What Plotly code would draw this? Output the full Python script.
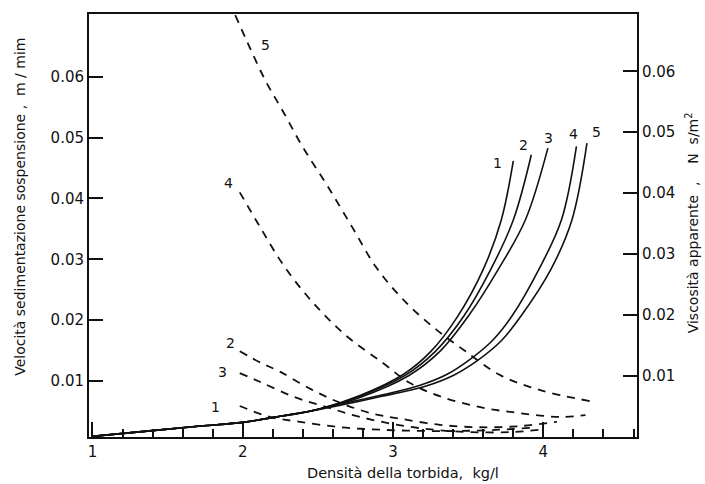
import plotly.graph_objects as go

# ---- data ----
# solid curves: apparent viscosity, N s/m^2 (right axis)
vis_x1 = [1.0, 1.38, 1.72, 2.0, 2.25, 2.51, 2.78, 3.07, 3.25, 3.43, 3.60, 3.72, 3.80]
vis_y1 = [0.0001, 0.0010, 0.0018, 0.0024, 0.0034, 0.0046, 0.0068, 0.0103, 0.0140, 0.0198, 0.0275, 0.0356, 0.0453]
vis_x2 = [1.0, 1.38, 1.72, 2.0, 2.25, 2.51, 2.78, 3.08, 3.28, 3.47, 3.65, 3.80, 3.92]
vis_y2 = [0.0001, 0.0010, 0.0018, 0.0024, 0.0034, 0.0046, 0.0067, 0.0101, 0.0140, 0.0198, 0.0275, 0.0356, 0.0463]
vis_x3 = [1.0, 1.38, 1.72, 2.0, 2.25, 2.51, 2.78, 3.10, 3.31, 3.50, 3.70, 3.88, 4.03]
vis_y3 = [0.0001, 0.0010, 0.0018, 0.0024, 0.0034, 0.0046, 0.0065, 0.0100, 0.0140, 0.0198, 0.0275, 0.0356, 0.0474]
vis_x4 = [1.0, 1.38, 1.72, 2.0, 2.25, 2.38, 2.65, 2.91, 3.18, 3.36, 3.51, 3.66, 3.79, 3.97, 4.12, 4.22]
vis_y4 = [0.0001, 0.0010, 0.0018, 0.0024, 0.0034, 0.0039, 0.0054, 0.0068, 0.0085, 0.0103, 0.0127, 0.0158, 0.0198, 0.0275, 0.0356, 0.0477]
vis_x5 = [1.0, 1.38, 1.72, 2.0, 2.25, 2.38, 2.65, 2.91, 3.21, 3.40, 3.57, 3.72, 3.85, 4.05, 4.19, 4.29]
vis_y5 = [0.0001, 0.0010, 0.0018, 0.0024, 0.0034, 0.0039, 0.0052, 0.0066, 0.0083, 0.0101, 0.0127, 0.0158, 0.0198, 0.0275, 0.0356, 0.0482]

# dashed curves: settling velocity, m/min (left axis)
vel_x1 = [1.98, 2.18, 2.38, 2.65, 2.91, 3.18, 3.45, 3.71, 3.91]
vel_y1 = [0.0059, 0.0041, 0.0033, 0.0024, 0.0020, 0.0018, 0.0018, 0.0020, 0.0023]
vel_x2 = [1.98, 2.12, 2.25, 2.45, 2.65, 2.87, 3.05, 3.31, 3.58, 3.85, 4.09]
vel_y2 = [0.0149, 0.0130, 0.0115, 0.0087, 0.0064, 0.0046, 0.0038, 0.0028, 0.0024, 0.0026, 0.0033]
vel_x3 = [1.98, 2.12, 2.34, 2.56, 2.78, 3.03, 3.27, 3.51, 3.78, 3.98]
vel_y3 = [0.0113, 0.0098, 0.0074, 0.0057, 0.0041, 0.0028, 0.0020, 0.0016, 0.0016, 0.0020]
vel_x4 = [1.98, 2.12, 2.28, 2.47, 2.69, 2.93, 3.11, 3.31, 3.58, 3.85, 4.11, 4.28]
vel_y4 = [0.0410, 0.0351, 0.0287, 0.0228, 0.0174, 0.0130, 0.0097, 0.0075, 0.0057, 0.0047, 0.0041, 0.0044]
vel_x5 = [1.95, 2.03, 2.15, 2.27, 2.40, 2.56, 2.73, 2.89, 3.09, 3.29, 3.47, 3.71, 3.98, 4.31]
vel_y5 = [0.0701, 0.0657, 0.0594, 0.0542, 0.0484, 0.0422, 0.0352, 0.0286, 0.0228, 0.0184, 0.0151, 0.0110, 0.0085, 0.0067]

curve_names = ["1", "2", "3", "4", "5"]
x_ticks = [1, 2, 3, 4]
y_ticks = [0.01, 0.02, 0.03, 0.04, 0.05, 0.06]
y_ticktext = ["0.01", "0.02", "0.03", "0.04", "0.05", "0.06"]

NB = "\u00a0"
x_title = "Densità della torbida," + NB * 2 + "kg/l"
yl_title = "Velocità sedimentazione sospensione" + NB + "," + NB * 2 + "m" + NB + "/" + NB + "mim"
yr_title = "Viscosità apparente" + NB * 2 + "," + NB * 4 + "N" + NB * 2 + "s/m<sup>2</sup>"

FONT = "DejaVu Sans"
INK = "#111111"

fig = go.Figure()

vis = [(vis_x1, vis_y1), (vis_x2, vis_y2), (vis_x3, vis_y3), (vis_x4, vis_y4), (vis_x5, vis_y5)]
vel = [(vel_x1, vel_y1), (vel_x2, vel_y2), (vel_x3, vel_y3), (vel_x4, vel_y4), (vel_x5, vel_y5)]

for name, (xs, ys) in zip(curve_names, vel):
    fig.add_trace(go.Scatter(x=xs, y=ys, mode="lines", name="v" + name,
                             line=dict(color=INK, width=1.8, dash="8px,7px", shape="spline", smoothing=1.0),
                             yaxis="y", showlegend=False, hoverinfo="skip"))
for name, (xs, ys) in zip(curve_names, vis):
    fig.add_trace(go.Scatter(x=xs, y=ys, mode="lines", name="m" + name,
                             line=dict(color=INK, width=1.6, shape="spline", smoothing=1.0),
                             yaxis="y2", showlegend=False, hoverinfo="skip"))

# curve labels
lab_dashed = [(1.816, 0.0057), (1.916, 0.0162), (1.862, 0.0115), (1.904, 0.0425), (2.150, 0.0652)]
lab_solid = [(3.692, 0.0458), (3.865, 0.0488), (4.032, 0.0499), (4.198, 0.0506), (4.351, 0.0509)]
for name, (x, y) in zip(curve_names, lab_dashed):
    fig.add_annotation(x=x, y=y, xref="x", yref="y", text=name, showarrow=False,
                       font=dict(family=FONT, size=14, color=INK))
for name, (x, y) in zip(curve_names, lab_solid):
    fig.add_annotation(x=x, y=y, xref="x", yref="y", text=name, showarrow=False,
                       font=dict(family=FONT, size=14, color=INK))

# axis titles
fig.add_annotation(x=0.573, y=-0.0851, xref="paper", yref="paper", text=x_title, showarrow=False,
                   xanchor="center", yanchor="middle",
                   font=dict(family=FONT, size=14.5, color=INK))
fig.add_annotation(x=-0.126, y=0.544, xref="paper", yref="paper", text=yl_title, showarrow=False,
                   xanchor="center", yanchor="middle",
                   textangle=-90, font=dict(family=FONT, size=14, color=INK))
fig.add_annotation(x=1.101, y=0.506, xref="paper", yref="paper", text=yr_title, showarrow=False,
                   xanchor="center", yanchor="middle",
                   textangle=-90, font=dict(family=FONT, size=14, color=INK))

fig.update_layout(
    width=705, height=484,
    margin=dict(l=89, r=68, t=14, b=47),
    paper_bgcolor="white", plot_bgcolor="white",
    font=dict(family=FONT, size=15, color=INK),
    xaxis=dict(range=[0.977, 4.623], tickvals=x_ticks, ticks="inside", ticklen=15, tickwidth=1.5,
               tickcolor=INK, showline=True, linewidth=2, linecolor=INK, mirror=True,
               showgrid=False, zeroline=False, tickfont=dict(size=15),
               minor=dict(dtick=0.2, tick0=1, ticks="inside", ticklen=8, tickwidth=1.5, tickcolor=INK, showgrid=False)),
    yaxis=dict(range=[0.0008, 0.0703], tickvals=y_ticks, ticktext=y_ticktext, ticks="inside", ticklen=14,
               tickwidth=1.5, tickcolor=INK, showline=True, linewidth=2, linecolor=INK,
               showgrid=False, zeroline=False, tickfont=dict(size=15)),
    yaxis2=dict(range=[0.0, 0.0694], tickvals=y_ticks, ticktext=y_ticktext, ticks="inside", ticklen=14,
                tickwidth=1.5, tickcolor=INK, showline=True, linewidth=2, linecolor=INK,
                overlaying="y", side="right", showgrid=False, zeroline=False, tickfont=dict(size=15)),
)

fig.write_html("out.html")
